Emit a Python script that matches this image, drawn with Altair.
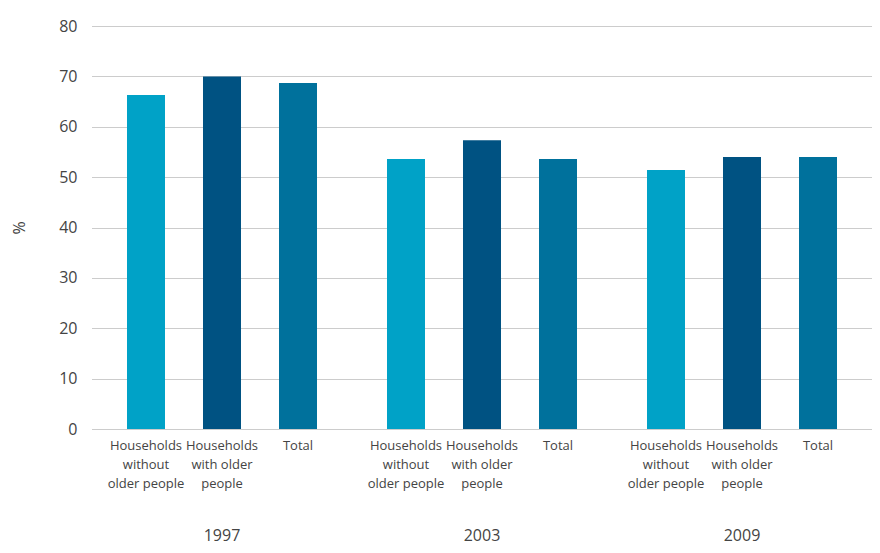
import altair as alt
import pandas as pd

years = ["1997", "2003", "2009"]
categories = ["Households without older people", "Households with older people", "Total"]
cat_labels = ["Households|without|older people", "Households|with older|people", "Total"]
v_without = [66.3, 53.6, 51.4]
v_with = [70.0, 57.3, 54.0]
v_total = [68.7, 53.6, 54.0]
colors = ["#00a2c7", "#005282", "#00719c"]

rows = []
for i, y in enumerate(years):
    for c, lab, vals in zip(categories, cat_labels, [v_without, v_with, v_total]):
        rows.append({"year": y, "category": lab, "value": vals[i]})
df = pd.DataFrame(rows)

font = "Open Sans"

base = alt.Chart(df).mark_bar().encode(
    x=alt.X("category:N", sort=cat_labels, title=None,
            scale=alt.Scale(paddingInner=0.5, paddingOuter=0.4605, align=0.5),
            axis=alt.Axis(labelExpr="split(datum.label, '|')", labelAngle=0,
                          labelFont=font, labelFontSize=13, labelColor="#444444",
                          labelLineHeight=19, labelPadding=10, ticks=False, domain=False,
                          labelBaseline="top")),
    y=alt.Y("value:Q", title="%", scale=alt.Scale(domain=[0, 80], nice=False),
            axis=alt.Axis(values=[0, 10, 20, 30, 40, 50, 60, 70, 80], ticks=False, domain=False,
                          labelFont=font, labelFontSize=16, labelColor="#444444", labelPadding=15,
                          titleFont=font, titleFontSize=16, titleFontWeight="normal",
                          titleColor="#444444", titlePadding=31,
                          gridColor="#999999", gridDash=[1, 1], gridWidth=1)),
    color=alt.Color("category:N", sort=cat_labels, scale=alt.Scale(domain=cat_labels, range=colors), legend=None),
).properties(width=260, height=403)

chart = base.facet(
    column=alt.Column("year:N", sort=years, title=None,
                      header=alt.Header(labelOrient="bottom", labelFont=font, labelFontSize=16,
                                        labelColor="#444444", labelPadding=38))
).properties(
    spacing=0, padding={"top": 10, "left": 3, "right": 0, "bottom": 1}
).configure_view(stroke=None).configure_facet(spacing=0)

chart.save("out.html", embed_options={"renderer": "svg", "actions": False})
